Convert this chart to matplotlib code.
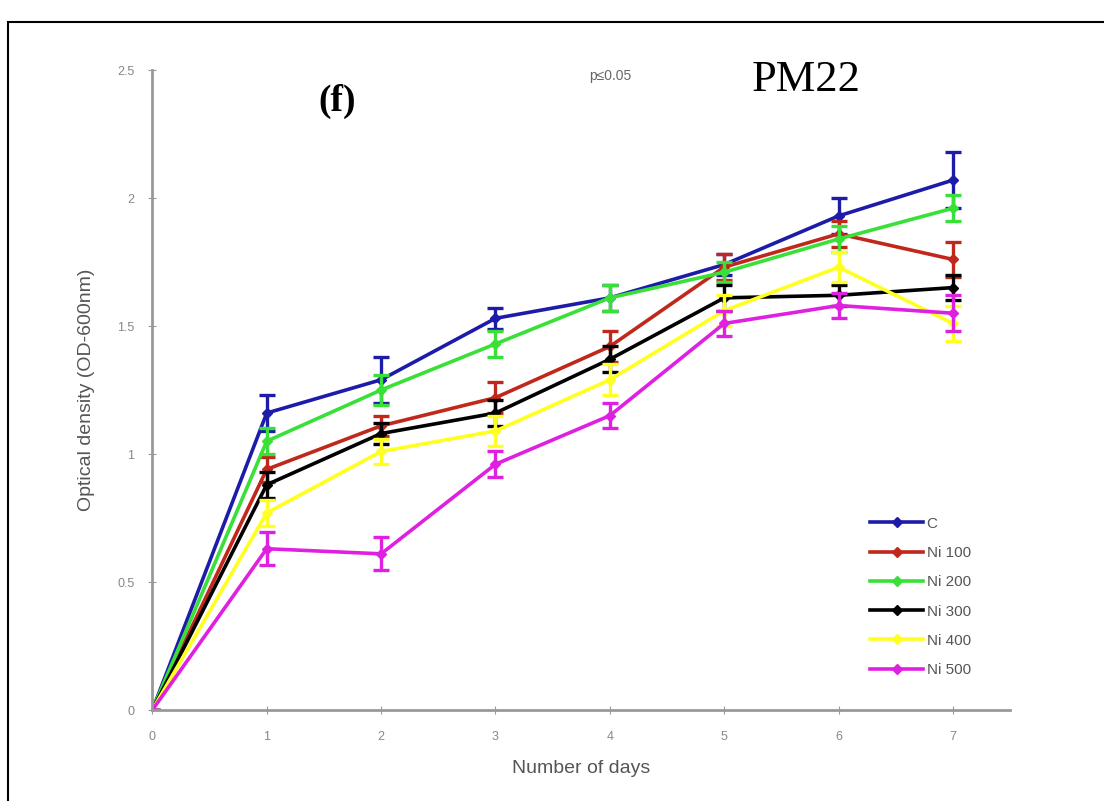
import matplotlib.pyplot as plt
from matplotlib.patches import Rectangle

plt.rcParams["font.family"] = ["Liberation Sans", "DejaVu Sans"]

days = [0, 1, 2, 3, 4, 5, 6, 7]
labels = ["C", "Ni 100", "Ni 200", "Ni 300", "Ni 400", "Ni 500"]
colors = ["#1c1ca8", "#c0281c", "#38e038", "#000000", "#ffff20", "#e020e0"]

c_vals = [0, 1.16, 1.29, 1.53, 1.61, 1.74, 1.93, 2.07]
ni100_vals = [0, 0.94, 1.11, 1.22, 1.42, 1.73, 1.86, 1.76]
ni200_vals = [0, 1.05, 1.25, 1.43, 1.61, 1.71, 1.84, 1.96]
ni300_vals = [0, 0.88, 1.08, 1.16, 1.37, 1.61, 1.62, 1.65]
ni400_vals = [0, 0.77, 1.01, 1.09, 1.29, 1.56, 1.73, 1.51]
ni500_vals = [0, 0.63, 0.61, 0.96, 1.15, 1.51, 1.58, 1.55]

c_err = [0, 0.07, 0.09, 0.04, 0.05, 0.04, 0.07, 0.11]
ni100_err = [0, 0.05, 0.04, 0.06, 0.06, 0.05, 0.05, 0.07]
ni200_err = [0, 0.05, 0.06, 0.05, 0.05, 0.04, 0.05, 0.05]
ni300_err = [0, 0.05, 0.04, 0.05, 0.05, 0.05, 0.04, 0.05]
ni400_err = [0, 0.05, 0.05, 0.06, 0.06, 0.06, 0.06, 0.07]
ni500_err = [0, 0.065, 0.065, 0.05, 0.05, 0.05, 0.05, 0.07]

series = [c_vals, ni100_vals, ni200_vals, ni300_vals, ni400_vals, ni500_vals]
errors = [c_err, ni100_err, ni200_err, ni300_err, ni400_err, ni500_err]

fig = plt.figure(figsize=(11.04, 8.01), dpi=100)
ax = fig.add_axes([0.138, 0.1136, 0.777, 0.799])

for vals, err, col, lab in zip(series, errors, colors, labels):
    ax.errorbar(days, vals, yerr=err, fmt="none", ecolor=col,
                capsize=6, capthick=2.4, elinewidth=2.4)
    ax.plot(days, vals, color=col, lw=2.6, marker="D", markersize=5,
            label=lab)

ax.set_xlim(0, 7.5)
ax.set_ylim(0, 2.5)
ax.set_xticks(days)
ax.set_yticks([0, 0.5, 1, 1.5, 2, 2.5])
ax.set_yticklabels(["0", "0.5", "1", "1.5", "2", "2.5"])
ax.spines["top"].set_visible(False)
ax.spines["right"].set_visible(False)
for s in ["left", "bottom"]:
    ax.spines[s].set_color("#999999")
    ax.spines[s].set_linewidth(2)
ax.tick_params(colors="#999999", labelcolor="#888888", labelsize=9,
               direction="inout", length=6)
ax.tick_params(axis="x", pad=12)
ax.tick_params(axis="y", pad=10)

ax.set_xlabel("Number of days", fontsize=14, color="#555555", labelpad=12)
ax.set_ylabel("Optical density (OD-600nm)", fontsize=14, color="#555555",
              labelpad=16)

leg = ax.legend(loc="lower right", bbox_to_anchor=(0.97, 0.03), frameon=False,
                fontsize=11, handlelength=3.5, labelspacing=1.0,
                handletextpad=0.2)
for t in leg.get_texts():
    t.set_color("#555555")

fig.text(0.305, 0.873, "(f)", fontsize=27, fontweight="bold",
         family="Liberation Serif", ha="center", va="center")
fig.text(0.553, 0.905, "p\u22640.05", fontsize=10, color="#666666",
         ha="center", va="center")
fig.text(0.73, 0.9, "PM22", fontsize=32, family="Liberation Serif",
         ha="center", va="center")

fig.patches.append(Rectangle((8 / 1104, -0.01), 1100 / 1104, 1 - 22 / 801 + 0.01,
                             transform=fig.transFigure, fill=False,
                             edgecolor="black", lw=1.5))

fig.savefig("out.png", dpi=100)
plt.close(fig)
